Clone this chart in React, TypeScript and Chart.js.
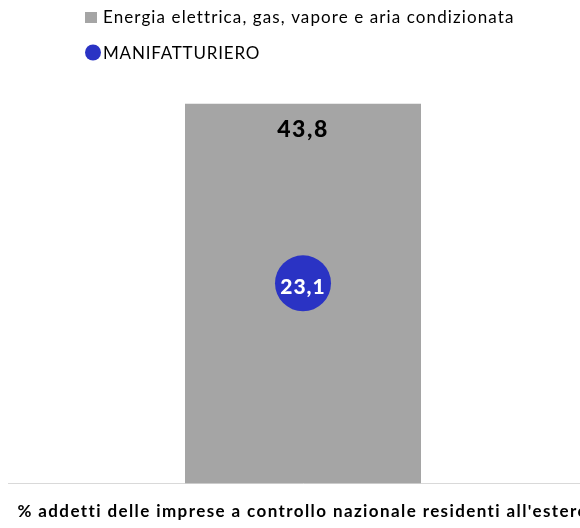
import React, { useEffect, useRef } from 'react';
import { Chart, registerables } from 'chart.js';

Chart.register(...registerables);

const categories = ["% addetti delle imprese a controllo nazionale residenti all'estero"];
const energiaLabel = 'Energia elettrica, gas, vapore e aria condizionata';
const energiaValues = [43.8];
const manifatturieroLabel = 'MANIFATTURIERO';
const manifatturieroValues = [23.1];
const yMin = 0;
const yMax = 50;

const FONT = 'Lato, "Open Sans", sans-serif';
const GREY = '#A5A5A5';
const BLUE = '#2A33C4';
const fmt = (v: number) => v.toFixed(1).replace('.', ',');

const spacingPlugin = {
  id: 'axisSpacing',
  beforeDraw(chart: any) {
    chart.ctx.letterSpacing = '1.4px';
  },
  beforeDatasetsDraw(chart: any) {
    chart.ctx.letterSpacing = '0px';
  },
};

const legendPlugin = {
  id: 'stackedLegend',
  afterDraw(chart: any) {
    const ctx = chart.ctx;
    const ds = chart.data.datasets;
    const rows = [18, 53.5];
    ctx.save();
    ctx.font = `17px ${FONT}`;
    ctx.textBaseline = 'middle';
    ctx.textAlign = 'left';
    ds.forEach((d: any, i: number) => {
      const y = rows[i];
      ctx.fillStyle = d.backgroundColor;
      if (d.type === 'line') {
        ctx.beginPath();
        ctx.arc(93, y - 1, 8, 0, Math.PI * 2);
        ctx.fill();
        ctx.letterSpacing = '0.8px';
      } else {
        ctx.fillRect(85, y - 6, 12, 11);
        ctx.letterSpacing = '1.1px';
      }
      ctx.fillStyle = '#000';
      ctx.fillText(d.label, 103, y);
    });
    ctx.restore();
  },
};

const valueLabelPlugin = {
  id: 'valueLabels',
  afterDatasetsDraw(chart: any) {
    const ctx = chart.ctx;
    ctx.save();
    ctx.textAlign = 'center';
    ctx.textBaseline = 'middle';
    chart.data.datasets.forEach((d: any, i: number) => {
      const meta = chart.getDatasetMeta(i);
      meta.data.forEach((el: any, j: number) => {
        const v = d.data[j];
        if (d.type === 'line') {
          ctx.font = `900 21px ${FONT}`;
          ctx.letterSpacing = '1px';
          ctx.fillStyle = '#FFFFFF';
          ctx.fillText(fmt(v), el.x, el.y + 4);
        } else {
          ctx.font = `900 23px ${FONT}`;
          ctx.letterSpacing = '1.5px';
          ctx.fillStyle = '#000000';
          ctx.fillText(fmt(v), el.x, el.y + 26);
        }
      });
    });
    ctx.restore();
  },
};

export default function App() {
  const ref = useRef<HTMLCanvasElement | null>(null);
  useEffect(() => {
    if (!ref.current) return;
    const chart = new Chart(ref.current, {
      type: 'bar',
      data: {
        labels: categories,
        datasets: [
          {
            type: 'bar',
            label: energiaLabel,
            data: energiaValues,
            backgroundColor: GREY,
            categoryPercentage: 1,
            barPercentage: 0.4,
            order: 1,
          } as any,
          {
            type: 'line',
            label: manifatturieroLabel,
            data: manifatturieroValues,
            backgroundColor: BLUE,
            borderColor: BLUE,
            showLine: false,
            pointRadius: 28,
            pointHoverRadius: 28,
            pointBorderWidth: 0,
            order: 0,
          } as any,
        ],
      },
      options: {
        responsive: false,
        animation: false,
        layout: { autoPadding: false, padding: { top: 50, left: 8, right: 8, bottom: 6 } },
        plugins: {
          legend: { display: false },
          tooltip: { enabled: false },
        },
        scales: {
          x: {
            offset: true,
            grid: { display: false, drawTicks: false },
            border: { display: true, color: '#D9D9D9', width: 1 },
            ticks: {
              maxRotation: 0,
              autoSkip: false,
              padding: 18,
              color: '#000',
              font: { family: FONT, size: 17, weight: 'bold' },
            },
          },
          y: {
            display: false,
            min: yMin,
            max: yMax,
          },
        },
      },
      plugins: [spacingPlugin, legendPlugin, valueLabelPlugin],
    });
    return () => chart.destroy();
  }, []);

  return (
    <div style={{ position: 'fixed', left: 0, top: 0, width: 580, height: 528, overflow: 'hidden', background: '#fff' }}>
      <canvas ref={ref} width={606} height={546} style={{ display: 'block' }} />
    </div>
  );
}
